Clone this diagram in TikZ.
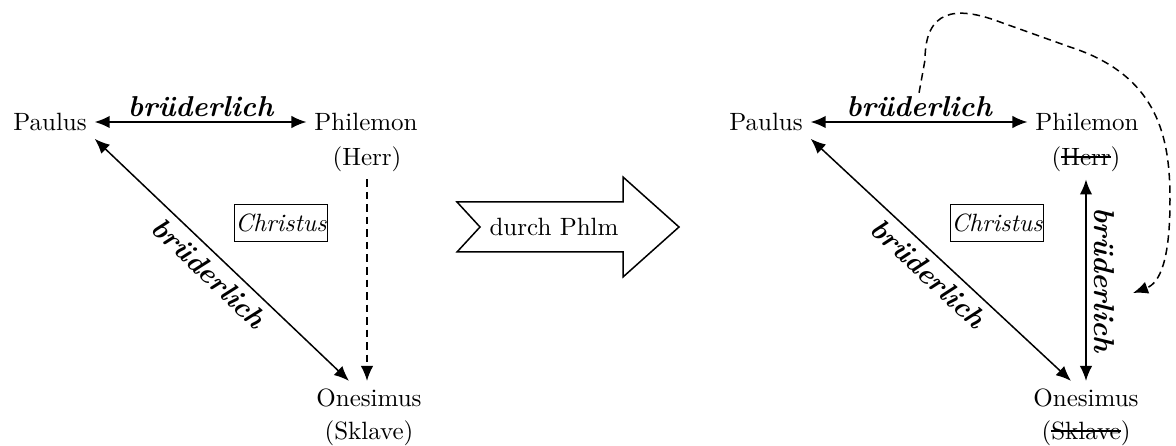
\documentclass[tikz,border=0pt]{standalone}
\usetikzlibrary{arrows.meta}
\newcommand{\strk}[1]{\setbox0\hbox{#1}\rlap{\rule[0.7ex]{\wd0}{0.5pt}}\box0}

\begin{document}
\begin{tikzpicture}[x=0.4pt,y=-0.4pt,
    person/.style={inner sep=3pt},
    bru/.style={font=\fontsize{11.5pt}{13pt}\selectfont\bfseries\itshape, inner sep=1pt},
    christbox/.style={draw, line width=0.5pt, font=\itshape, inner xsep=0.5pt, minimum height=15pt},
    both/.style={line width=0.6pt, {Latex[length=6pt,width=5pt]}-{Latex[length=6pt,width=5pt]}},
    dashline/.style={line width=0.6pt, dash pattern=on 3pt off 2pt, -{Latex[length=6pt,width=5pt]}}]
    \useasboundingbox (0,0) rectangle (1176,446);

    % left triangle
    \node[person] (paulusL) at (50,122) {Paulus};
    \node[person] (philL) at (366,122) {Philemon};
    \node[person] (herrL) at (367,159) {(Herr)};
    \node[person] (onesL) at (369,398) {Onesimus};
    \node[person] (sklL) at (369,433) {(Sklave)};
    \node[christbox] (chrL) at (281,223) {Christus};
    \draw[both] (paulusL) -- node[bru, above=1pt] (bruLa) {brüderlich} (philL);
    \draw[both] (paulusL.south east) -- node[bru, sloped, below=2pt] (bruLb) {brüderlich} ([xshift=-8pt]onesL.north);
    \draw[dashline] (herrL.south) -- (herrL.south |- onesL.north);

    % big arrow in the middle
    \draw[line width=0.6pt] (457,202) -- (623,202) -- (623,177) -- (679,227)
        -- (623,277) -- (623,252) -- (457,252) -- (480,227) -- cycle;
    \node (durch) at (554,227) {durch Phlm};

    % right triangle
    \node[person] (paulusR) at (766,122) {Paulus};
    \node[person] (philR) at (1087,122) {Philemon};
    \node[person] (herrR) at (1086,159) {(\strk{Herr})};
    \node[person] (onesR) at (1086,398) {Onesimus};
    \node[person] (sklR) at (1086,433) {(\strk{Sklave})};
    \node[christbox] (chrR) at (997,223) {Christus};
    \draw[both] (paulusR) -- node[bru, above=1pt] (bruRa) {brüderlich} (philR);
    \draw[both] (paulusR.south east) -- node[bru, sloped, below=2pt] (bruRb) {brüderlich} ([xshift=-6pt]onesR.north);
    \draw[both] (herrR.south) -- node[bru, sloped, above=2pt] (bruRc) {brüderlich} (onesR.north);

    % dashed loop from the top label to the vertical one
    \coordinate (ziel) at (1133,293);
    \draw[dashline] (bruRa.north) -- (925,60) .. controls (925,10) and (955,5) .. (1000,22)
        -- (1070,47) .. controls (1160,76) and (1170,140) .. (1170,200)
        .. controls (1170,260) and (1160,283) .. (ziel);
\end{tikzpicture}
\end{document}
